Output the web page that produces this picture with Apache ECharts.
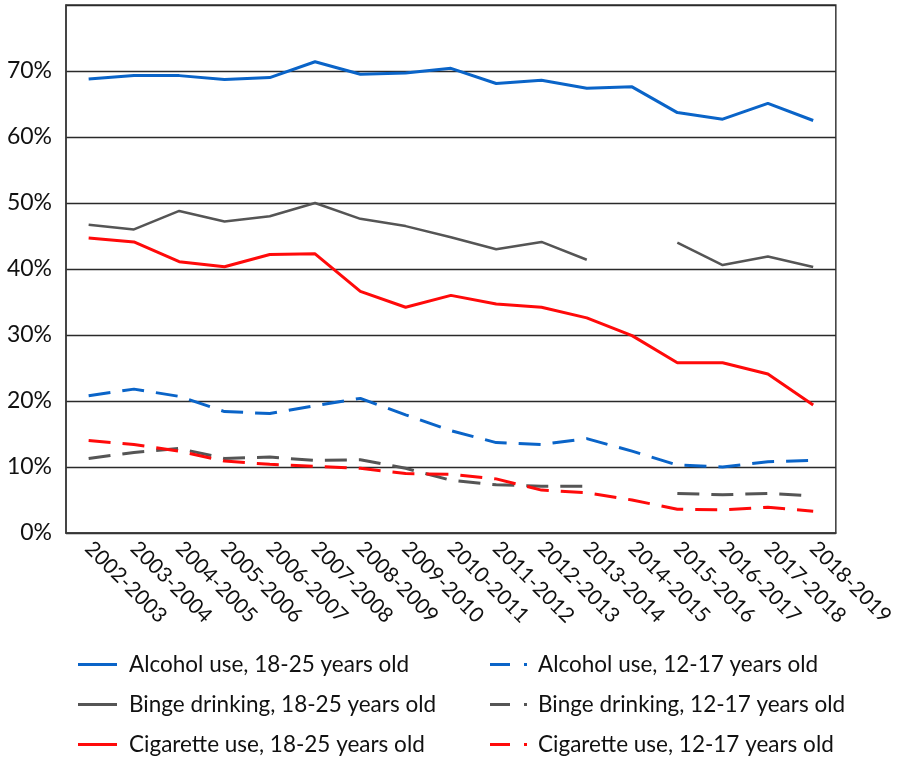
<!DOCTYPE html>
<html>
<head>
<meta charset="utf-8">
<script src="https://cdn.jsdelivr.net/npm/echarts@6/dist/echarts.min.js"></script>
<style>
html,body{margin:0;padding:0;background:#fff;}
#chart{width:897px;height:760px;}
</style>
</head>
<body>
<div id="chart"></div>
<script>
const categories = ['2002-2003','2003-2004','2004-2005','2005-2006','2006-2007','2007-2008','2008-2009','2009-2010','2010-2011','2011-2012','2012-2013','2013-2014','2014-2015','2015-2016','2016-2017','2017-2018','2018-2019'];
const alcohol1825 = [68.8,69.3,69.3,68.7,69.0,71.4,69.5,69.7,70.4,68.1,68.6,67.4,67.6,63.7,62.7,65.1,62.5];
const binge1825 = [46.7,46.0,48.8,47.2,48.0,50.0,47.6,46.5,44.8,43.0,44.1,41.4,null,44.0,40.6,41.9,40.3];
const cig1825 = [44.7,44.1,41.1,40.35,42.2,42.3,36.6,34.2,36.0,34.7,34.2,32.6,29.9,25.8,25.8,24.1,19.4];
const alcohol1217 = [20.8,21.8,20.7,18.4,18.1,19.3,20.4,17.9,15.5,13.7,13.4,14.3,12.4,10.3,10.0,10.8,11.0];
const binge1217 = [11.3,12.2,12.8,11.3,11.5,11.0,11.1,9.8,8.0,7.3,7.1,7.1,null,6.0,5.8,6.0,5.6];
const cig1217 = [14.0,13.4,12.4,10.9,10.4,10.1,9.8,9.0,8.9,8.2,6.5,6.1,5.0,3.6,3.5,3.9,3.3];
const yTicks = [0,10,20,30,40,50,60,70];
const namesAdult = ['Alcohol use, 18-25 years old','Binge drinking, 18-25 years old','Cigarette use, 18-25 years old'];
const namesTeen = ['Alcohol use, 12-17 years old','Binge drinking, 12-17 years old','Cigarette use, 12-17 years old'];

const BLUE = '#0a64c8', GRAY = '#555555', RED = '#ff0a0a';
const FONT = 'Lato';
const dash = [22, 12];
const SOLID_ICON = 'path://M0,0h39v3h-39z';
const DASH_ICON = 'path://M0,0h20v3h-20zM34,0h3v3h-3z';

function mk(name, data, color, dashed, width) {
  return {
    name, type: 'line', data, symbol: 'none', connectNulls: false,
    lineStyle: { color, width, type: dashed ? dash : 'solid' },
    itemStyle: { color },
    emphasis: { disabled: true },
    animation: false
  };
}

function legendItem(name, left, top, solid) {
  return {
    orient: 'horizontal', left, top, padding: 0,
    itemWidth: solid ? 39 : 37, itemHeight: 3,
    icon: solid ? SOLID_ICON : DASH_ICON,
    data: [name],
    textStyle: { fontFamily: FONT, fontSize: 22.5, color: '#111', padding: [0,0,0, solid ? 7 : 6], lineHeight: 20 },
    selectedMode: false
  };
}

const legends = [];
namesAdult.forEach((n, i) => legends.push(legendItem(n, 78, 653 + i * 40, true)));
namesTeen.forEach((n, i) => legends.push(legendItem(n, 490, 653 + i * 40, false)));

const chart = echarts.init(document.getElementById('chart'), null, {renderer: 'canvas'});
chart.setOption({
  backgroundColor: '#fff',
  animation: false,
  grid: { left: 66, right: 56, top: 5, bottom: 227, show: true, borderColor: '#3a3a3a', borderWidth: 1.5 },
  xAxis: {
    type: 'category', data: categories, boundaryGap: true,
    axisLine: { show: true, lineStyle: { color: '#3a3a3a', width: 1.5 } },
    axisTick: { show: false },
    axisLabel: { rotate: -45, fontFamily: FONT, fontSize: 21, color: '#111', margin: 12, interval: 0 }
  },
  yAxis: {
    type: 'value', min: 0, max: 80, interval: 10,
    axisLine: { show: true, lineStyle: { color: '#3a3a3a', width: 1.5 } },
    axisTick: { show: false },
    splitLine: { lineStyle: { color: '#2a2a2a', width: 1.3 } },
    axisLabel: {
      fontFamily: FONT, fontSize: 23, color: '#111', margin: 14,
      padding: [0, 0, 12, 0],
      formatter: v => yTicks.indexOf(v) >= 0 ? v + '%' : ''
    }
  },
  legend: legends,
  series: [
    mk(namesAdult[0], alcohol1825, BLUE, false, 3),
    mk(namesAdult[1], binge1825, GRAY, false, 2.5),
    mk(namesAdult[2], cig1825, RED, false, 3),
    mk(namesTeen[0], alcohol1217, BLUE, true, 3),
    mk(namesTeen[1], binge1217, GRAY, true, 3),
    mk(namesTeen[2], cig1217, RED, true, 3)
  ]
});
</script>
</body>
</html>
